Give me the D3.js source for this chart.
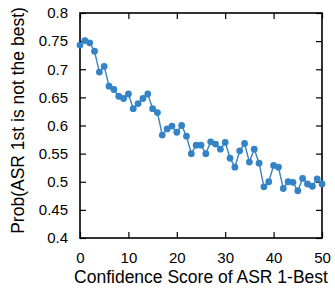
<!DOCTYPE html>
<meta charset="utf-8">
<script src="https://d3js.org/d3.v7.min.js"></script>
<style>
body {margin:0; background:#fff;}
text {font-family:"Liberation Sans", Arial, sans-serif; fill:#000;}
.axis path {display:none;}
.axis line {stroke:#000; stroke-width:1.2;}
.axis text {font-size:15px;}
</style>
<body>
<svg id="chart" width="335" height="291"></svg>
<script>
// confidence score buckets 0..50
var scores = d3.range(0, 51);
var probs = [0.743,0.751,0.747,0.732,0.695,0.705,0.670,0.664,0.652,0.648,
             0.656,0.630,0.639,0.648,0.656,0.630,0.623,0.583,0.594,0.599,
             0.588,0.600,0.581,0.550,0.565,0.565,0.550,0.571,0.567,0.558,
             0.570,0.542,0.526,0.555,0.568,0.535,0.558,0.533,0.491,0.500,
             0.529,0.526,0.488,0.500,0.499,0.484,0.506,0.496,0.492,0.505,0.496];
var xTicks = [0,10,20,30,40,50];
var yTicks = [0.4,0.45,0.5,0.55,0.6,0.65,0.7,0.75,0.8];

var m = {top:13, right:13, bottom:53, left:80};
var svg = d3.select('#chart');
var w = 335 - m.left - m.right, h = 291 - m.top - m.bottom;
var g = svg.append('g').attr('transform', 'translate(' + m.left + ',' + m.top + ')');

var x = d3.scaleLinear().domain([0, 50]).range([0, w]);
var y = d3.scaleLinear().domain([0.4, 0.8]).range([h, 0]);

// bottom / left with labels, top / right mirrored ticks
g.append('g').attr('class', 'axis').attr('transform', 'translate(0,' + h + ')')
  .call(d3.axisBottom(x).tickValues(xTicks).tickSizeInner(-6).tickPadding(14).tickFormat(d3.format('d')));
g.append('g').attr('class', 'axis')
  .call(d3.axisLeft(y).tickValues(yTicks).tickSizeInner(-6).tickPadding(12).tickFormat(function(d){ return String(+d.toFixed(2)); }));
g.append('g').attr('class', 'axis')
  .call(d3.axisTop(x).tickValues(xTicks).tickSizeInner(-6).tickFormat(''));
g.append('g').attr('class', 'axis').attr('transform', 'translate(' + w + ',0)')
  .call(d3.axisRight(y).tickValues(yTicks).tickSizeInner(-6).tickFormat(''));

g.append('rect').attr('width', w).attr('height', h)
  .attr('fill', 'none').attr('stroke', '#000').attr('stroke-width', 1.6);

var col = '#3483c6';
var data = scores.map(function(s, i){ return {x:s, y:probs[i]}; });
g.append('path').datum(data)
  .attr('fill', 'none').attr('stroke', col).attr('stroke-width', 1.4)
  .attr('d', d3.line().x(function(d){ return x(d.x); }).y(function(d){ return y(d.y); }));
g.selectAll('.pt').data(data).enter().append('circle').attr('class', 'pt')
  .attr('cx', function(d){ return x(d.x); })
  .attr('cy', function(d){ return y(d.y); })
  .attr('r', 3.4).attr('fill', col);

svg.append('text').attr('x', m.left + w / 2).attr('y', 283)
  .attr('text-anchor', 'middle').style('font-size', '17.5px')
  .text('Confidence Score of ASR 1-Best');
svg.append('text')
  .attr('transform', 'translate(24,' + (m.top + h / 2 - 5) + ') rotate(-90)')
  .attr('text-anchor', 'middle').style('font-size', '17.5px')
  .text('Prob(ASR 1st is not the best)');
</script>
</body>
